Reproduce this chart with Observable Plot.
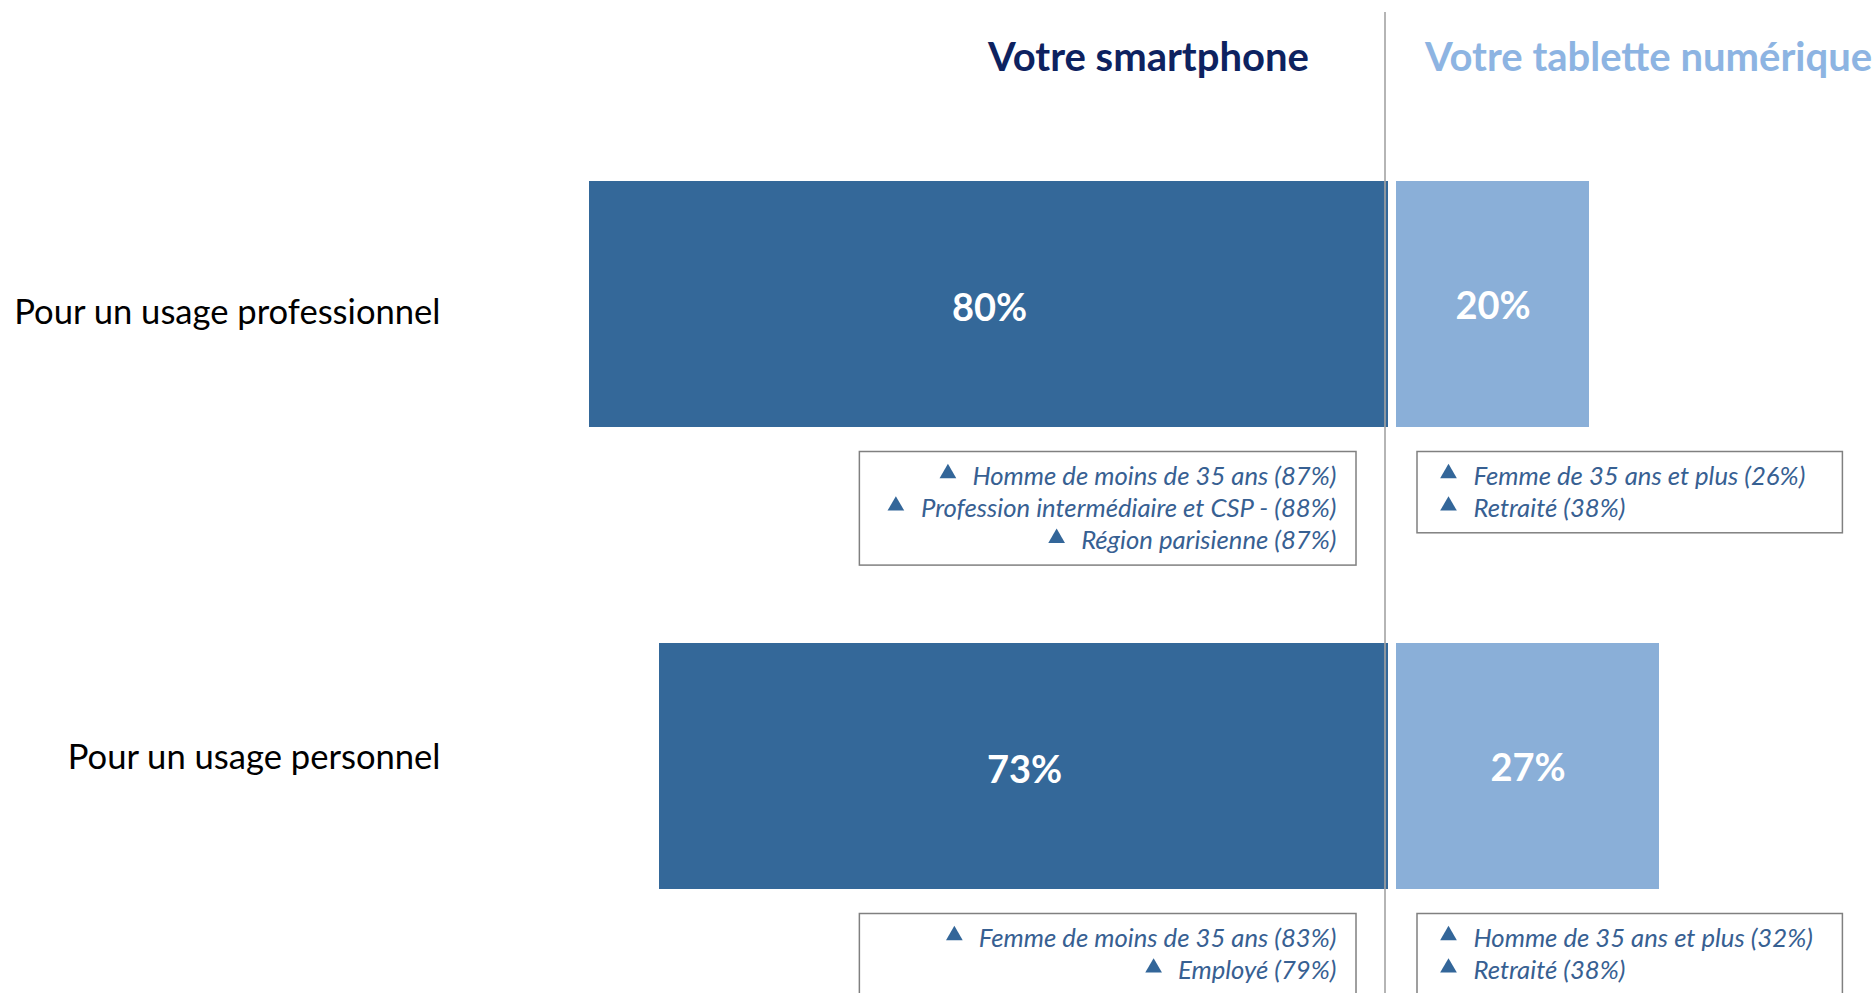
<!DOCTYPE html>
<html><head><meta charset="utf-8">
<script src="https://cdn.jsdelivr.net/npm/d3@7"></script>
<script src="https://cdn.jsdelivr.net/npm/@observablehq/plot@0.6"></script>
<style>html,body{margin:0;padding:0;background:#fff;overflow:hidden}#chart svg{display:block}</style>
</head><body><div id="chart"></div>
<script>
// ---- data ----
const categories = ["Pour un usage professionnel", "Pour un usage personnel"];
const devices = ["Votre smartphone", "Votre tablette numérique"];
const smartphoneValues = [80, 73];
const tabletValues = [20, 27];
const smartphoneNotes = [
  ["Homme de moins de 35 ans (87%)", "Profession intermédiaire et CSP - (88%)", "Région parisienne (87%)"],
  ["Femme de moins de 35 ans (83%)", "Employé (79%)"]
];
const tabletNotes = [
  ["Femme de 35 ans et plus (26%)", "Retraité (38%)"],
  ["Homme de 35 ans et plus (32%)", "Retraité (38%)"]
];

// ---- layout ----
const W = 1876, H = 993;
const Z = 1389;          // pixel of the 0 line
const K = 10;            // pixels per percentage point
const ML = 450;          // left margin (category labels)
const u = p => p / K;    // pixel offset -> x units
const BAND_TOP = 180, BAND_BOTTOM = 890, PAD = 0.4665;
const step = (BAND_BOTTOM - BAND_TOP) / (2 - PAD);
const BW = step * (1 - PAD);
const NOTE_OFF = 172, NOTE_LH = 32.3;
const FONT = "Lato, 'Open Sans', sans-serif";
const NOTE_SIZE = 25.7;
const noteFont = `italic ${NOTE_SIZE}px Lato`;
const C_SMART = "#346899", C_TAB = "#8AAFD8", C_NOTE = "#376092", C_TRI = "#336699";

const ctx = document.createElement("canvas").getContext("2d");
const tw = (s, f) => { ctx.font = f; return ctx.measureText(s).width; };

const smartRows = categories.map((c, i) => ({cat: c, value: smartphoneValues[i]}));
const tabRows = categories.map((c, i) => ({cat: c, value: tabletValues[i]}));
const flat = notes => notes.flatMap((lines, r) => lines.map((t, i) => ({cat: categories[r], row: r, idx: i, n: lines.length, text: t, w: tw(t, noteFont)})));
const smartLines = flat(smartphoneNotes);
const tabLines = flat(tabletNotes);
const smartMax = d3.max(smartLines, d => d.w);
const tabMax = d3.max(tabLines, d => d.w);
const SMART_TEXT_R = 53, SMART_BOX_R = 33;
const smartBoxW = 20 + smartMax + 24.5 + 36;
const TAB_BOX_L = 28, TAB_TRI = 59, TAB_TEXT = 84;
const tabBoxW = (TAB_TEXT - TAB_BOX_L) + tabMax + 30;

const marks = [];
// bars
marks.push(Plot.barX(smartRows, {x1: d => -d.value, x2: () => 0, y: "cat", fill: C_SMART, insetRight: 1}));
marks.push(Plot.barX(tabRows, {x1: () => 0, x2: d => d.value, y: "cat", fill: C_TAB, insetLeft: 7}));
// separator
marks.push(Plot.ruleX([0], {dx: -4.5, stroke: "#a3a3a3", strokeWidth: 1.6}));
// values
marks.push(Plot.text(smartRows, {x: d => -d.value / 2, y: "cat", dy: 4, text: d => d.value + "%", fill: "white", fontWeight: "bold", fontSize: 38, fontFamily: FONT}));
marks.push(Plot.text(tabRows, {x: d => d.value / 2, dx: 3.5, y: "cat", dy: 2, text: d => d.value + "%", fill: "white", fontWeight: "bold", fontSize: 38, fontFamily: FONT}));
// category labels
const LABEL_DY = [8, -9];
categories.forEach((c, r) => {
  marks.push(Plot.text([c], {x: () => (ML - 10 - Z) / K, y: d => d, dy: LABEL_DY[r], text: d => d, textAnchor: "end", fill: "#000", fontSize: 34.6, fontFamily: FONT}));
});
// column titles
marks.push(Plot.text([devices[0]], {x: () => 0, dx: -241, frameAnchor: "top", dy: 46, lineAnchor: "middle", text: d => d, fill: "#0d2260", fontWeight: "bold", fontSize: 40, fontFamily: FONT}));
marks.push(Plot.text([devices[1]], {x: () => 0, dx: 259, frameAnchor: "top", dy: 46, lineAnchor: "middle", text: d => d, fill: "#8db4e2", fontWeight: "bold", fontSize: 40, fontFamily: FONT}));
// note boxes
for (let r = 0; r < categories.length; r++) {
  const nS = smartphoneNotes[r].length, nT = tabletNotes[r].length;
  const top = BW / 2 + NOTE_OFF - 25;
  marks.push(Plot.barX([{cat: categories[r]}], {x1: () => -u(SMART_BOX_R + smartBoxW), x2: () => -u(SMART_BOX_R), y: "cat",
    insetTop: top, insetBottom: BW / 2 - (NOTE_OFF + NOTE_LH * (nS - 1) + 25), fill: "none", stroke: "#808080", strokeWidth: 1.5}));
  marks.push(Plot.barX([{cat: categories[r]}], {x1: () => u(TAB_BOX_L), x2: () => u(TAB_BOX_L + tabBoxW), y: "cat",
    insetTop: top, insetBottom: BW / 2 - (NOTE_OFF + NOTE_LH * (nT - 1) + 25), fill: "none", stroke: "#808080", strokeWidth: 1.5}));
}
// note lines
for (let i = 0; i < 3; i++) {
  const dy = NOTE_OFF + NOTE_LH * i;
  const s = smartLines.filter(d => d.idx === i), t = tabLines.filter(d => d.idx === i);
  marks.push(Plot.text(s, {x: () => 0, dx: -SMART_TEXT_R, y: "cat", dy, text: "text", textAnchor: "end", fill: C_NOTE, fontStyle: "italic", fontSize: NOTE_SIZE, fontFamily: FONT}));
  marks.push(Plot.dot(s, {x: d => -u(SMART_TEXT_R + d.w + 24.5), y: "cat", dy: dy - 3, symbol: "triangle", r: 6.2, fill: C_TRI, stroke: "none"}));
  marks.push(Plot.text(t, {x: () => 0, dx: TAB_TEXT, y: "cat", dy, text: "text", textAnchor: "start", fill: C_NOTE, fontStyle: "italic", fontSize: NOTE_SIZE, fontFamily: FONT}));
  marks.push(Plot.dot(t, {x: () => u(TAB_TRI), y: "cat", dy: dy - 3, symbol: "triangle", r: 6.2, fill: C_TRI, stroke: "none"}));
}

const chart = Plot.plot({
  width: W, height: H,
  marginLeft: ML, marginRight: 0, marginTop: 12, marginBottom: 0,
  style: {fontFamily: FONT, fontSize: "31px", color: "#000", background: "#fff"},
  x: {domain: [(ML - Z) / K, (W - Z) / K], axis: null},
  y: {domain: categories, range: [BAND_TOP, BAND_BOTTOM], paddingInner: PAD, paddingOuter: 0, axis: null},
  marks
});
document.getElementById("chart").appendChild(chart);
</script>
</body></html>
